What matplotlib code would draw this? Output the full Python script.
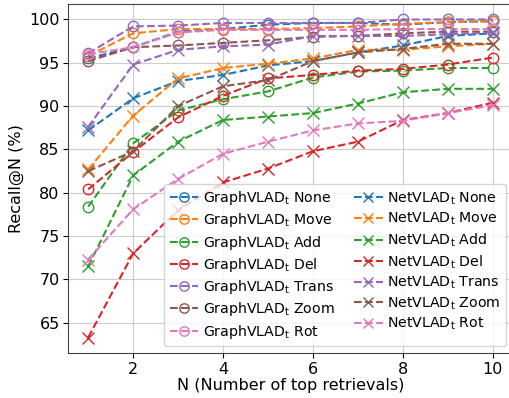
import matplotlib
matplotlib.use("Agg")
import matplotlib.pyplot as plt
import numpy as np

n = np.arange(1, 11)

# GraphVLAD_t (circles)
g_none  = [95.5, 96.8, 98.6, 98.9, 99.4, 99.6, 99.6, 99.4, 99.7, 99.8]
g_move  = [95.8, 98.4, 98.9, 98.9, 98.9, 99.0, 99.2, 99.5, 99.7, 99.8]
g_add   = [78.4, 85.7, 89.5, 90.8, 91.7, 93.3, 94.0, 94.1, 94.4, 94.4]
g_del   = [80.4, 84.7, 88.7, 91.2, 93.2, 93.6, 94.1, 94.3, 94.8, 95.6]
g_trans = [96.1, 99.2, 99.3, 99.6, 99.6, 99.6, 99.6, 100.0, 100.0, 100.0]
g_zoom  = [95.2, 96.8, 97.0, 97.3, 97.6, 98.0, 98.1, 98.4, 98.6, 98.6]
g_rot   = [96.0, 96.8, 98.5, 98.8, 98.8, 98.8, 98.8, 98.9, 98.9, 98.9]

# NetVLAD_t (crosses)
n_none  = [87.2, 90.9, 92.9, 93.6, 94.7, 95.2, 96.2, 97.0, 98.1, 98.4]
n_move  = [82.7, 88.9, 93.2, 94.4, 94.9, 95.5, 96.5, 96.5, 96.9, 97.2]
n_add   = [71.5, 82.0, 85.9, 88.4, 88.8, 89.2, 90.3, 91.6, 92.0, 92.0]
n_del   = [63.3, 73.0, 78.0, 81.2, 82.8, 84.8, 85.9, 88.4, 89.2, 90.4]
n_trans = [87.6, 94.8, 96.5, 96.9, 97.1, 98.1, 98.1, 98.1, 98.3, 98.5]
n_zoom  = [82.5, 84.8, 90.0, 92.3, 93.0, 95.2, 96.2, 96.6, 97.2, 97.2]
n_rot   = [72.3, 78.1, 81.6, 84.5, 85.9, 87.2, 88.0, 88.3, 89.2, 90.1]

names = ['None', 'Move', 'Add', 'Del', 'Trans', 'Zoom', 'Rot']
graph = [g_none, g_move, g_add, g_del, g_trans, g_zoom, g_rot]
net = [n_none, n_move, n_add, n_del, n_trans, n_zoom, n_rot]
colors = ['tab:blue', 'tab:orange', 'tab:green', 'tab:red',
          'tab:purple', 'tab:brown', 'tab:pink']

fig = plt.figure(figsize=(5.1, 3.98), dpi=100)
ax = fig.add_axes([0.1333, 0.112, 0.8725, 0.879])

for name, vals, c in zip(names, graph, colors):
    ax.plot(n, vals, linestyle='--', color=c, marker='o', markersize=7.5,
            fillstyle='none', linewidth=1.5, label=r'GraphVLAD$_\mathrm{t}$ ' + name)
for name, vals, c in zip(names, net, colors):
    ax.plot(n, vals, linestyle='--', color=c, marker='x', markersize=8.5,
            linewidth=1.5, label=r'NetVLAD$_\mathrm{t}$ ' + name)

ax.set_xticks([2, 4, 6, 8, 10])
ax.set_yticks([65, 70, 75, 80, 85, 90, 95, 100])
ax.tick_params(labelsize=11.5, pad=2.5)
ax.grid(True, color='#cccccc')
ax.set_axisbelow(True)
for s in ax.spines.values():
    s.set_color('#444444')
ax.set_xlabel('N (Number of top retrievals)', fontsize=11.5, labelpad=1)
ax.set_ylabel('Recall@N (%)', fontsize=11.5)
ax.legend(loc='lower right', ncol=2, fontsize=10.2, columnspacing=1.4,
          handletextpad=0.3, labelspacing=0.3, borderaxespad=0.5,
          markerscale=0.9)

fig.savefig('out.png', dpi=100)
